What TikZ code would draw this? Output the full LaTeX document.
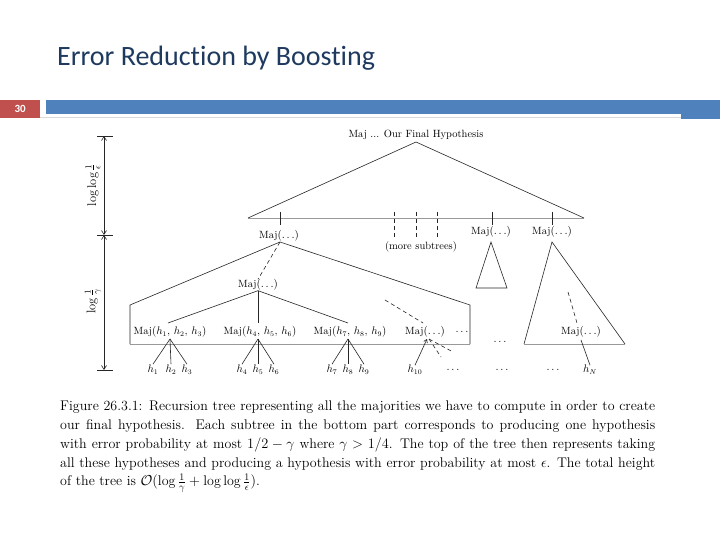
\documentclass[tikz,border=0pt]{standalone}
\usepackage{fontspec}
\newfontfamily\titlefont[Ligatures=NoCommon]{Carlito}
\usetikzlibrary{arrows.meta}
\definecolor{titleblue}{HTML}{1F3A5F}
\definecolor{barblue}{HTML}{4F81BD}
\definecolor{boxred}{HTML}{C0504D}
\begin{document}
\begin{tikzpicture}[x=1pt,y=-1pt,
  lbl/.style={font=\fontsize{10.5}{12}\selectfont, inner sep=0pt},
  dimlbl/.style={font=\fontsize{12.5}{14}\selectfont, inner sep=0pt, rotate=90},
  edge/.style={draw=black!85, line width=0.6pt},
  dashededge/.style={edge, dash pattern=on 4pt off 3pt},
  baseline/.style={draw=black!40, line width=0.8pt},
  dimline/.style={draw=black!85, line width=0.6pt, {Straight Barb[length=4pt,width=5pt]}-{Straight Barb[length=4pt,width=5pt]}},
  tip/.style={edge, -{Straight Barb[length=3pt,width=4pt]}},
]
\useasboundingbox (0,0) rectangle (720,540);
\fill[white] (0,0) rectangle (720,540);

% header
\node[anchor=base west, inner sep=0pt, text=titleblue, font=\titlefont\fontsize{28}{30}\selectfont] (title) at (57,66) {Error Reduction by Boosting};
\node[fill=boxred, minimum width=40pt, minimum height=18pt, inner sep=0pt, anchor=north west, text=white, font=\titlefont\bfseries\fontsize{11}{11}\selectfont] (slidenum) at (0,100) {30};
\fill[barblue] (46,100) rectangle (720,114);
\fill[barblue] (681,114) rectangle (720,119);
\draw[black!15, line width=0.5pt] (40,117.5) -- (681,117.5);

% dimension lines
\coordinate (dtop) at (104,136);
\coordinate (dmid) at (104,235);
\coordinate (dbot) at (104,370);
\draw[edge] (97,136) -- (113,136);
\draw[edge] (97,235) -- (113,235);
\draw[edge] (97,370) -- (113,370);
\draw[dimline] (dtop) -- (dmid);
\draw[dimline] (dmid) -- (dbot);
\node[dimlbl] (dimA) at (93,185) {$\log\log\frac{1}{\epsilon}$};
\node[dimlbl] (dimB) at (93,301) {$\log\frac{1}{\gamma}$};

% top tree
\node[lbl, anchor=base] (final) at (416,138) {Maj ... Our Final Hypothesis};
\coordinate (apex) at (416,142);
\coordinate (tl) at (248,218);
\coordinate (tr) at (584,218);
\draw[baseline] (tl) -- (tr);
\draw[edge] (tl) -- (apex) -- (tr);

% top-level subtree roots
\node[lbl] (m1) at (279,236) {Maj$(\ldots)$};
\draw[edge] (280,212) -- (280,225);
\node[lbl] (more) at (421,247) {(more subtrees)};
\draw[dashededge] (394,212) -- (394,238);
\draw[dashededge] (416,212) -- (416,238);
\draw[dashededge] (437,212) -- (437,238);
\node[lbl] (mA) at (491,232) {Maj$(\ldots)$};
\draw[edge] (492,212) -- (492,225);
\node[lbl] (mB) at (552,232) {Maj$(\ldots)$};
\draw[edge] (552,212) -- (552,225);

% small triangle
\coordinate (sA) at (491,242);
\coordinate (sL) at (476,288);
\coordinate (sR) at (507,288);
\draw[edge] (sL) -- (sA) -- (sR) -- cycle;

% big triangle
\coordinate (bA) at (552,242);
\coordinate (bL) at (524,344);
\coordinate (bR) at (625,344);
\draw[edge] (bL) -- (bA) -- (bR);
\draw[baseline] (bL) -- (bR);
\node[lbl] (mN) at (581,332) {Maj$(\ldots)$};
\coordinate (bIn) at (568,292);
\draw[dashededge] (bIn) -- (577,323);
\node[lbl] (hN) at (590,370) {$h_N$};
\draw[edge] (581,340) -- (hN.north);

% left subtree (trapezoid)
\coordinate (lA) at (280,242);
\coordinate (lTL) at (130,305);
\coordinate (lBL) at (130,344);
\coordinate (lTR) at (470,305);
\coordinate (lBR) at (470,344);
\draw[baseline] (lBL) -- (lBR);
\draw[edge] (lBL) -- (lTL) -- (lA) -- (lTR) -- (lBR);

\node[lbl] (m2) at (258,285) {Maj$(\ldots)$};
\draw[dashededge] (lA) -- (m2.north);

\node[lbl] (g1) at (170,332) {Maj$(h_1,\, h_2,\, h_3)$};
\node[lbl] (g2) at (260,332) {Maj$(h_4,\, h_5,\, h_6)$};
\node[lbl] (g3) at (350,332) {Maj$(h_7,\, h_8,\, h_9)$};
\node[lbl] (g4) at (425,332) {Maj$(\ldots)$};
\node[lbl] (g5) at (462,332) {$\ldots$};
\draw[edge] (m2.south) -- (168,323);
\draw[edge] (m2.south) -- (258,323);
\draw[edge] (m2.south) -- (348,323);

% leaves
\coordinate (a1) at (170,339);
\coordinate (a2) at (258,339);
\coordinate (a3) at (348,339);
\node[lbl] (h1) at (153,370) {$h_1$};
\node[lbl] (h2) at (171,370) {$h_2$};
\node[lbl] (h3) at (187,370) {$h_3$};
\node[lbl] (h4) at (242,370) {$h_4$};
\node[lbl] (h5) at (258,370) {$h_5$};
\node[lbl] (h6) at (274,370) {$h_6$};
\node[lbl] (h7) at (332,370) {$h_7$};
\node[lbl] (h8) at (348,370) {$h_8$};
\node[lbl] (h9) at (364,370) {$h_9$};
\foreach \a/\l in {a1/h1,a1/h2,a1/h3,a2/h4,a2/h5,a2/h6,a3/h7,a3/h8,a3/h9}
  \draw[edge] (\a) -- ([yshift=1pt]\l.north);

\node[lbl] (h10) at (415,370) {$h_{10}$};
\draw[tip] (h10.north) -- (427,339);
\draw[dashededge] (385,300) -- (423,323);
\coordinate (g4s) at (429,339);
\draw[dashededge] (g4s) -- (441,357);
\draw[dashededge] (g4s) -- (453,352);

\node[lbl] (d1) at (500,342) {$\ldots$};
\node[lbl] (d2) at (453,370) {$\ldots$};
\node[lbl] (d3) at (502,370) {$\ldots$};
\node[lbl] (d4) at (553,370) {$\ldots$};

% caption
\node[anchor=north west, inner sep=0pt, text width=595pt, align=justify, font=\fontsize{14}{18.7}\selectfont] (caption) at (60,401) {Figure 26.3.1: Recursion tree representing all the majorities we have to compute in order to create\linebreak our final hypothesis. Each subtree in the bottom part corresponds to producing one hypothesis\linebreak with error probability at most $1/2-\gamma$ where $\gamma>1/4$. The top of the tree then represents taking\linebreak all these hypotheses and producing a hypothesis with error probability at most $\epsilon$. The total height\linebreak of the tree is $\mathcal{O}(\log\frac{1}{\gamma}+\log\log\frac{1}{\epsilon})$.};
\end{tikzpicture}
\end{document}
